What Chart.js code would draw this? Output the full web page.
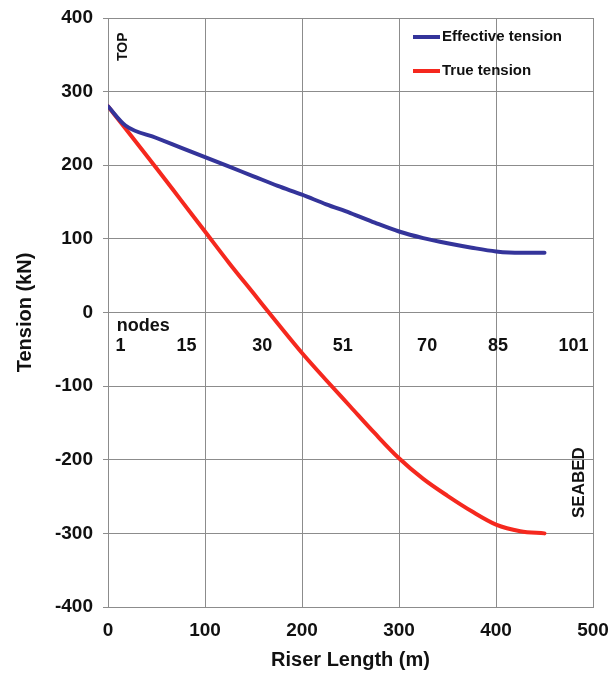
<!DOCTYPE html>
<html>
<head>
<meta charset="utf-8">
<script src="https://cdn.jsdelivr.net/npm/chart.js@4.4.0/dist/chart.umd.min.js"></script>
<style>
  html, body { margin: 0; padding: 0; background: #fff; }
  #wrap { width: 611px; height: 673px; }
</style>
</head>
<body>
<div id="wrap"><canvas id="riserChart"></canvas></div>
<script>
// riser length (m) along the line, shared by both series
const riserLength = [0, 18, 50, 75, 100, 125, 150, 175, 200, 225, 250, 275, 300, 325, 350, 375, 400, 425, 450];
const effectiveTension = [280, 254, 237, 224, 211, 198, 185, 172, 160, 147, 135, 122, 110, 101, 94, 88, 83, 81, 81];
const trueTension = [280, 250, 196, 153, 110, 67, 26, -15, -55, -92, -128, -164, -198, -226, -249, -270, -288, -297, -300];

// node numbering written inside the plot
const nodeLabels = ["1", "15", "30", "51", "70", "85", "101"];
const nodePositions = [13, 81, 159, 242, 329, 402, 480];

const FONT = "'Liberation Sans', Arial, sans-serif";
const BLUE = "#34349a";
const RED = "#f5281e";

const toPoints = (ys) => riserLength.map((x, i) => ({ x, y: ys[i] }));

// texts drawn in data space + the small legend box
const annotations = {
  id: "annotations",
  afterDatasetsDraw(chart) {
    const { ctx, scales } = chart;
    const sx = scales.x, sy = scales.y;
    ctx.save();
    ctx.fillStyle = "#111";

    ctx.font = "bold 18px " + FONT;
    ctx.textBaseline = "middle";
    ctx.textAlign = "left";
    ctx.fillText("nodes", sx.getPixelForValue(9), sy.getPixelForValue(-19));
    ctx.textAlign = "center";
    nodeLabels.forEach((lab, i) => {
      ctx.fillText(lab, sx.getPixelForValue(nodePositions[i]), sy.getPixelForValue(-46));
    });

    const vertical = (text, x, y, size) => {
      ctx.save();
      ctx.translate(sx.getPixelForValue(x), sy.getPixelForValue(y));
      ctx.rotate(-Math.PI / 2);
      ctx.font = "bold " + size + "px " + FONT;
      ctx.textAlign = "center";
      ctx.textBaseline = "middle";
      ctx.fillText(text, 0, 0);
      ctx.restore();
    };
    vertical("TOP", 15.5, 361, 14);
    vertical("SEABED", 486, -231, 17);

    // legend
    const items = [
      { text: "Effective tension", color: BLUE, y: 37 },
      { text: "True tension", color: RED, y: 71 },
    ];
    ctx.font = "bold 15px " + FONT;
    ctx.textAlign = "left";
    items.forEach(it => {
      ctx.strokeStyle = it.color;
      ctx.lineWidth = 4;
      ctx.beginPath();
      ctx.moveTo(413, it.y);
      ctx.lineTo(440, it.y);
      ctx.stroke();
      ctx.fillStyle = "#111";
      ctx.fillText(it.text, 442, it.y);
    });
    ctx.restore();
  }
};

const ctx = document.getElementById("riserChart").getContext("2d");
new Chart(ctx, {
  type: "line",
  data: {
    datasets: [
      {
        label: "Effective tension",
        data: toPoints(effectiveTension),
        borderColor: BLUE,
        borderWidth: 4,
        pointRadius: 0,
        cubicInterpolationMode: "monotone",
        borderCapStyle: "round",
      },
      {
        label: "True tension",
        data: toPoints(trueTension),
        borderColor: RED,
        borderWidth: 4,
        pointRadius: 0,
        cubicInterpolationMode: "monotone",
        borderCapStyle: "round",
      },
    ],
  },
  options: {
    responsive: true,
    maintainAspectRatio: false,
    animation: false,
    layout: { padding: { top: 18, right: 18, left: 0, bottom: 0 } },
    plugins: {
      legend: { display: false },
      tooltip: { enabled: false },
    },
    scales: {
      x: {
        type: "linear",
        min: 0,
        max: 500,
        afterFit(scale) {
          scale.height = 66;
          scale.paddingLeft = 0;
          scale.paddingRight = 0;
        },
        ticks: {
          stepSize: 100,
          padding: 12,
          color: "#111",
          font: { family: FONT, size: 19, weight: "bold" },
        },
        grid: { color: "#8c8c8c", lineWidth: 1, drawTicks: false },
        border: { color: "#8c8c8c" },
        title: {
          display: true,
          text: "Riser Length (m)",
          color: "#111",
          padding: { top: 0, bottom: 1 },
          font: { family: FONT, size: 20, weight: "bold" },
        },
      },
      y: {
        min: -400,
        max: 400,
        afterFit(scale) {
          scale.width = 108;
          scale.paddingTop = 0;
          scale.paddingBottom = 0;
        },
        ticks: {
          stepSize: 100,
          padding: 10,
          color: "#111",
          font: { family: FONT, size: 19, weight: "bold" },
        },
        grid: { color: "#8c8c8c", lineWidth: 1, tickLength: 5 },
        border: { color: "#8c8c8c" },
        title: {
          display: true,
          text: "Tension (kN)",
          color: "#111",
          padding: { top: 13, bottom: 0 },
          font: { family: FONT, size: 20, weight: "bold" },
        },
      },
    },
  },
  plugins: [annotations],
});
</script>
</body>
</html>
